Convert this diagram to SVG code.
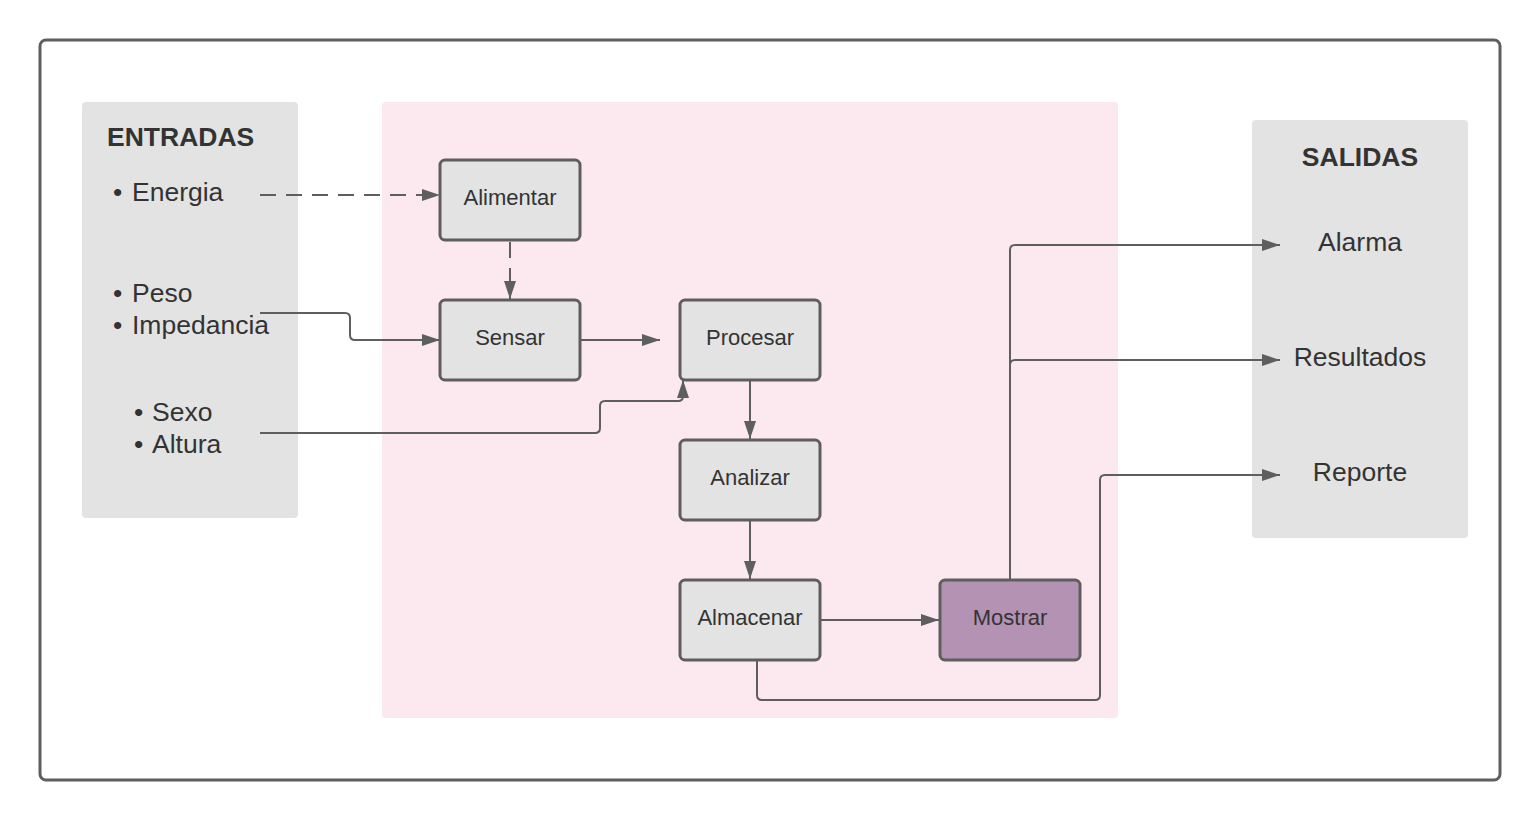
<svg xmlns="http://www.w3.org/2000/svg" width="1540" height="820" viewBox="0 0 1540 820">
<style>
.node rect{fill:#e3e3e3;stroke:#5e5e5e;stroke-width:3}
.node text{font-family:"Liberation Sans",Arial,sans-serif;font-size:22px;fill:#333;text-anchor:middle}
.lbl{font-family:"Liberation Sans",Arial,sans-serif;font-size:26.5px;fill:#333}
.ttl{font-family:"Liberation Sans",Arial,sans-serif;font-size:26.5px;font-weight:bold;fill:#333}
.c{fill:none;stroke:#5e5e5e;stroke-width:2}
.d{stroke-dasharray:16 10}
</style>
<defs>
<marker id="a" viewBox="0 0 18 12" refX="18" refY="6" markerWidth="18" markerHeight="12" markerUnits="userSpaceOnUse" orient="auto">
<path d="M0,0 L18,6 L0,12 Z" fill="#5e5e5e"/>
</marker>
</defs>
<rect x="0" y="0" width="1540" height="820" fill="#fff"/>
<rect x="40" y="40" width="1460" height="740" rx="6" fill="#fff" stroke="#5e5e5e" stroke-width="3"/>
<g id="entradas">
<rect x="82" y="102" width="216" height="416" rx="4" fill="#e3e3e3"/>
<text class="ttl" x="107" y="146">ENTRADAS</text>
<text class="lbl" x="113" y="201">•</text><text class="lbl" x="132" y="201">Energia</text>
<text class="lbl" x="113" y="302">•</text><text class="lbl" x="132" y="302">Peso</text>
<text class="lbl" x="113" y="334">•</text><text class="lbl" x="132" y="334">Impedancia</text>
<text class="lbl" x="134" y="421">•</text><text class="lbl" x="152" y="421">Sexo</text>
<text class="lbl" x="134" y="453">•</text><text class="lbl" x="152" y="453">Altura</text>
</g>
<g id="proceso">
<rect x="382" y="102" width="736" height="616" rx="4" fill="#fce8ef"/>
</g>
<g id="salidas">
<rect x="1252" y="120" width="216" height="418" rx="4" fill="#e3e3e3"/>
<text class="ttl" x="1360" y="166" text-anchor="middle">SALIDAS</text>
<text class="lbl" x="1360" y="251" text-anchor="middle">Alarma</text>
<text class="lbl" x="1360" y="366" text-anchor="middle">Resultados</text>
<text class="lbl" x="1360" y="481" text-anchor="middle">Reporte</text>
</g>
<g id="connectors">
<path class="c d" d="M260,195 H440" marker-end="url(#a)"/>
<path class="c d" d="M510,242 V299" marker-end="url(#a)"/>
<path class="c" d="M260,313 H345 Q350,313 350,318 V335 Q350,340 355,340 H440" marker-end="url(#a)"/>
<path class="c" d="M581,340 H660" marker-end="url(#a)"/>
<path class="c" d="M260,433 H595 Q600,433 600,428 V406 Q600,401 605,401 H678 Q683,401 683,396 V380" marker-end="url(#a)"/>
<path class="c" d="M750,381 V439" marker-end="url(#a)"/>
<path class="c" d="M750,521 V579" marker-end="url(#a)"/>
<path class="c" d="M821,620 H939" marker-end="url(#a)"/>
<path class="c" d="M1010,579 V250 Q1010,245 1015,245 H1280" marker-end="url(#a)"/>
<path class="c" d="M1010,365 Q1010,360 1015,360 H1280" marker-end="url(#a)"/>
<path class="c" d="M757,661 V695 Q757,700 762,700 H1095 Q1100,700 1100,695 V480 Q1100,475 1105,475 H1280" marker-end="url(#a)"/>
</g>
<g id="alimentar" class="node"><rect x="440" y="160" width="140" height="80" rx="5"/><text x="510" y="205">Alimentar</text></g>
<g id="sensar" class="node"><rect x="440" y="300" width="140" height="80" rx="5"/><text x="510" y="345">Sensar</text></g>
<g id="procesar" class="node"><rect x="680" y="300" width="140" height="80" rx="5"/><text x="750" y="345">Procesar</text></g>
<g id="analizar" class="node"><rect x="680" y="440" width="140" height="80" rx="5"/><text x="750" y="485">Analizar</text></g>
<g id="almacenar" class="node"><rect x="680" y="580" width="140" height="80" rx="5"/><text x="750" y="625">Almacenar</text></g>
<g id="mostrar" class="node"><rect x="940" y="580" width="140" height="80" rx="5" style="fill:#b392b3"/><text x="1010" y="625">Mostrar</text></g>
</svg>
